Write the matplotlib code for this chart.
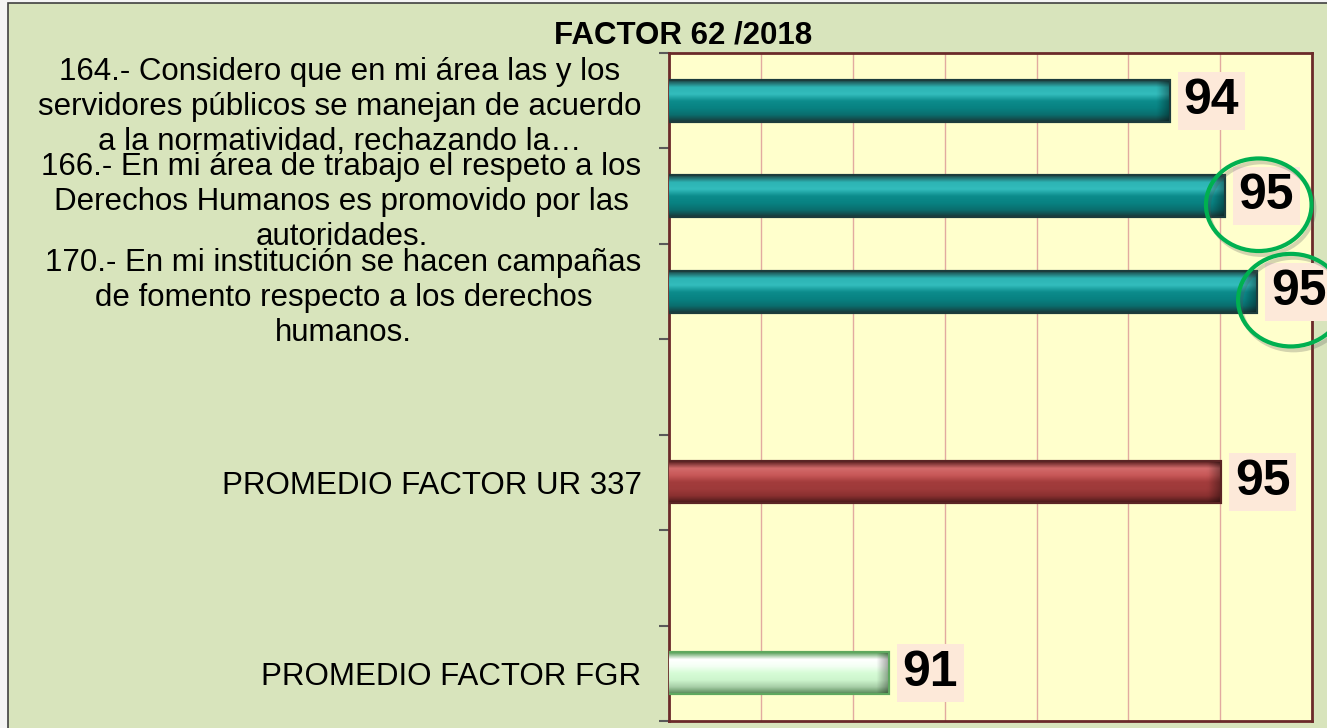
import numpy as np
import matplotlib
matplotlib.use('Agg')
import matplotlib.pyplot as plt
from matplotlib.patches import Ellipse, Rectangle
from matplotlib import font_manager

# datos del gráfico (las categorías vacías dejan el hueco entre grupos)
categorias = [
    '164.- Considero que en mi área las y los\nservidores públicos se manejan de acuerdo\na la normatividad, rechazando la…',
    '166.- En mi área de trabajo el respeto a los\nDerechos Humanos es promovido por las\nautoridades.',
    '170.- En mi institución se hacen campañas\nde fomento respecto a los derechos\nhumanos.',
    '',
    'PROMEDIO FACTOR UR 337',
    '',
    'PROMEDIO FACTOR FGR',
]
valores = [94.05, 94.65, 95.0, np.nan, 94.61, np.nan, 90.99]
etiquetas = ['94', '95', '95', '', '95', '', '91']
tipo_barra = ['teal', 'teal', 'teal', '', 'rojo', '', 'verde']
resaltado = [False, True, True, False, False, False, False]

titulo = 'FACTOR 62 /2018'
x_min, x_max = 88.6, 95.6

# degradados (arriba -> abajo) para imitar el bisel de excel
degradados = {
    'teal': ['#1e4848', '#2db4b4', '#33bcbc', '#0c8c8c', '#088282', '#0a6e6e', '#1a3a3a'],
    'rojo': ['#5a2020', '#d26a6a', '#c85858', '#a33c3c', '#9e3a3a', '#8a3030', '#4a1a1a'],
    'verde': ['#5aa05a', '#ffffff', '#f4fff4', '#d6fcd6', '#cdf5cd', '#a8cfa8', '#5a8a5a'],
}
bordes = {'teal': '#1c3c3c', 'rojo': '#5a2424', 'verde': '#5fa85f'}

plt.rcParams['font.family'] = ['Liberation Sans', 'DejaVu Sans']
nombres = {f.name for f in font_manager.fontManager.ttflist}
fuente_num = 'Liberation Sans Narrow' if 'Liberation Sans Narrow' in nombres else 'Liberation Sans'

fig = plt.figure(figsize=(13.27, 7.28), dpi=100)
fig.patch.set_facecolor('#f4f4f4')
fondo = Rectangle((8 / 1327, -0.01), 1.0, 1 - 3 / 728 + 0.01, transform=fig.transFigure,
                  facecolor='#d8e4bc', edgecolor='#404040', lw=1.2, zorder=-5)
fig.patches.append(fondo)

ax = fig.add_axes([669.3 / 1327, 1 - 721 / 728, (1312 - 669.3) / 1327, (721 - 53) / 728])
ax.set_facecolor('#ffffcc')

y = np.arange(len(categorias))
alto = 0.44
for i, v in enumerate(valores):
    if np.isnan(v):
        continue
    t = tipo_barra[i]
    b = ax.barh(i, v, height=alto, color=degradados[t][3], edgecolor=bordes[t], lw=1.5, zorder=3)[0]
    # relleno con degradado recortado a la barra
    cmap = matplotlib.colors.LinearSegmentedColormap.from_list(t, degradados[t])
    perfil = np.linspace(0, 1, 60)
    img = cmap(perfil)[:, None, :3] * np.ones((1, 200, 1))
    # oscurecer el extremo derecho (bisel)
    cols = np.linspace(x_min, v, 200)
    oscuro = np.clip((cols - (v - 0.13)) / 0.13, 0, 1) * 0.35
    img = img * (1 - oscuro[None, :, None])
    im = ax.imshow(img, extent=(x_min, v, i + alto / 2, i - alto / 2), aspect='auto',
                   zorder=4, interpolation='bilinear')
    im.set_clip_path(b)
    ax.barh(i, v, height=alto, color='none', edgecolor=bordes[t], lw=1.5, zorder=5)

    ax.annotate(etiquetas[i], xy=(v, i), xytext=(10, 0), textcoords='offset points',
                ha='left', va='center', fontsize=36, fontweight='bold', family=fuente_num,
                bbox=dict(boxstyle='square,pad=0.12', fc='#fde9d9', ec='none'),
                annotation_clip=False, zorder=6)

    if resaltado[i]:
        for dx, dy, col, a in [(0.03, 0.04, '#555555', 0.25), (0, 0, '#00b050', 1)]:
            el = Ellipse((v + 0.37 + dx, i + 0.09 + dy), width=1.15, height=0.97, fill=False,
                         edgecolor=col, lw=3, alpha=a, clip_on=False, zorder=7)
            ax.add_patch(el)

ax.set_xlim(x_min, x_max)
ax.set_ylim(len(categorias) - 0.5, -0.5)
ax.set_xticks(np.arange(x_min, x_max + 0.01, 1))
ax.tick_params(axis='x', length=0, labelbottom=False)
ax.grid(axis='x', color='#e2aaa0', lw=1, zorder=1)

ax.set_yticks(y)
ax.set_yticklabels(categorias, fontsize=22.5, multialignment='center', linespacing=1.22)
ax.set_yticks(np.arange(-0.5, len(categorias), 1), minor=True)
ax.tick_params(axis='y', which='major', length=0, pad=20)
ax.tick_params(axis='y', which='minor', length=7, width=1.5, color='#595959', direction='out')

for s in ax.spines.values():
    s.set_color('#6b2a2a')
    s.set_linewidth(2)

fig.text(683 / 1327, 1 - 35 / 728, titulo, ha='center', va='center', fontsize=22.5, fontweight='bold')

plt.savefig('out.png', dpi=100, facecolor=fig.get_facecolor())
